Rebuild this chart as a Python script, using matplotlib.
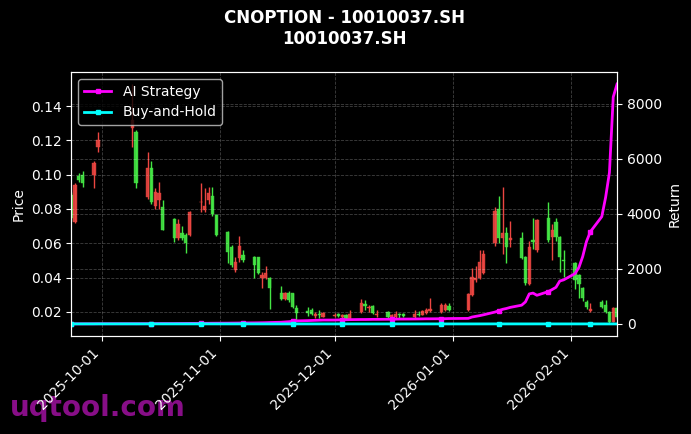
import matplotlib
matplotlib.use('Agg')
import matplotlib.pyplot as plt
import matplotlib.dates as mdates
import numpy as np
import pandas as pd

plt.style.use('dark_background')

# trading days (weekdays minus exchange holidays)
holidays = ['2025-10-01', '2025-10-02', '2025-10-03', '2025-10-06', '2025-10-07',
            '2025-10-08', '2026-01-01', '2026-01-02']
dates = pd.bdate_range('2025-09-23', '2026-02-13')
dates = dates[~dates.isin(pd.to_datetime(holidays))]

opens = [0.088, 0.0725, 0.099, 0.100, 0.0995, 0.116,
         0.127, 0.125, 0.087, 0.104, 0.082, 0.0855, 0.081, 0.074, 0.063, 0.066, 0.065, 0.065,
         0.0838, 0.0795, 0.0855, 0.0875, 0.0765,
         0.0667, 0.058, 0.0445, 0.0515, 0.053, 0.052, 0.052, 0.0395, 0.040, 0.040,
         0.031, 0.0275, 0.031, 0.031, 0.022, 0.0205, 0.021, 0.0175, 0.0185, 0.0172,
         0.0175, 0.019, 0.0168, 0.018, 0.016, 0.020, 0.0245, 0.022, 0.0235, 0.018,
         0.020, 0.0168, 0.017, 0.0185, 0.0185, 0.017, 0.019, 0.0182, 0.0195, 0.0205,
         0.020, 0.021, 0.0235,
         0.021, 0.030, 0.0385, 0.0395, 0.0425, 0.060, 0.080, 0.063, 0.066, 0.062,
         0.063, 0.052, 0.036, 0.062, 0.056, 0.075, 0.0635, 0.0725, 0.0635, 0.0505,
         0.0485, 0.0415, 0.034, 0.0258, 0.0205, 0.0255, 0.024, 0.020, 0.0142, 0.022]
highs = [0.090, 0.095, 0.101, 0.102, 0.108, 0.125,
         0.153, 0.126, 0.113, 0.108, 0.092, 0.096, 0.085, 0.075, 0.074, 0.070, 0.066, 0.079,
         0.095, 0.092, 0.093, 0.093, 0.077,
         0.067, 0.059, 0.052, 0.064, 0.056, 0.0525, 0.052, 0.043, 0.047, 0.0405,
         0.035, 0.0315, 0.032, 0.031, 0.024, 0.023, 0.0225, 0.020, 0.021, 0.020,
         0.0195, 0.0195, 0.019, 0.019, 0.021, 0.0275, 0.027, 0.024, 0.024, 0.021,
         0.0205, 0.019, 0.0205, 0.0195, 0.0195, 0.021, 0.0205, 0.021, 0.022, 0.028,
         0.025, 0.025, 0.025,
         0.031, 0.0455, 0.0465, 0.056, 0.056, 0.081, 0.0875, 0.093, 0.0695, 0.073,
         0.0665, 0.0525, 0.0615, 0.075, 0.074, 0.084, 0.071, 0.0745, 0.064, 0.056,
         0.049, 0.042, 0.0345, 0.027, 0.025, 0.027, 0.027, 0.0205, 0.023, 0.023]
lows = [0.073, 0.072, 0.096, 0.093, 0.092, 0.113,
        0.116, 0.092, 0.086, 0.083, 0.080, 0.080, 0.0675, 0.061, 0.062, 0.062, 0.0545, 0.064,
        0.078, 0.078, 0.083, 0.076, 0.064,
        0.0485, 0.046, 0.0435, 0.049, 0.049, 0.040, 0.042, 0.034, 0.039, 0.0215,
        0.027, 0.027, 0.026, 0.022, 0.0155, 0.0175, 0.018, 0.0165, 0.0165, 0.017,
        0.0168, 0.017, 0.0165, 0.0155, 0.0155, 0.0195, 0.021, 0.020, 0.019, 0.017,
        0.0165, 0.0162, 0.0165, 0.0165, 0.017, 0.0165, 0.0175, 0.018, 0.019, 0.020,
        0.0195, 0.0205, 0.0205,
        0.0205, 0.0295, 0.0375, 0.039, 0.042, 0.0585, 0.060, 0.054, 0.0485, 0.058,
        0.051, 0.0355, 0.0355, 0.0565, 0.055, 0.061, 0.050, 0.0615, 0.0435, 0.0405,
        0.0335, 0.028, 0.0265, 0.0215, 0.020, 0.0225, 0.0195, 0.013, 0.014, 0.016]
closes = [0.075, 0.094, 0.097, 0.095, 0.107, 0.120,
          0.132, 0.095, 0.104, 0.084, 0.090, 0.0895, 0.068, 0.063, 0.071, 0.063, 0.060, 0.0785,
          0.0842, 0.082, 0.0895, 0.077, 0.065,
          0.055, 0.0475, 0.049, 0.0585, 0.050, 0.0475, 0.0427, 0.0415, 0.0425, 0.034,
          0.0275, 0.031, 0.027, 0.023, 0.0195, 0.0195, 0.0185, 0.0185, 0.018, 0.0195,
          0.018, 0.0178, 0.018, 0.0158, 0.0185, 0.0252, 0.0235, 0.023, 0.0195, 0.019,
          0.0168, 0.018, 0.019, 0.018, 0.0178, 0.019, 0.0182, 0.0205, 0.021, 0.0215,
          0.024, 0.024, 0.021,
          0.0305, 0.0405, 0.040, 0.049, 0.054, 0.079, 0.063, 0.066, 0.058, 0.063,
          0.0515, 0.037, 0.058, 0.0605, 0.0735, 0.062, 0.0675, 0.0635, 0.052, 0.0497,
          0.0385, 0.036, 0.028, 0.023, 0.0215, 0.023, 0.020, 0.0142, 0.0225, 0.017]

strategy = [0, 1, 2, 2, 3, 5,
            6, 6, 8, 9, 10, 11, 12, 12, 14, 15, 16, 18, 20, 22, 23, 24, 25,
            27, 29, 30, 32, 35, 38, 40, 42, 45, 50, 60, 70, 80, 95, 110, 120, 125, 130, 135, 140,
            140, 145, 150, 150, 155, 160, 160, 162, 165, 165, 168, 170, 172, 175, 175, 178,
            180, 182, 185, 185, 188, 190, 195,
            200, 250, 275, 300, 330, 430, 475, 530, 560, 600, 680, 800, 1090, 1120, 1040,
            1175, 1250, 1330, 1560, 1600,
            1830, 2050, 2450, 3000, 3350, 3900, 4600, 5500, 8250, 8720]

df = pd.DataFrame({'open': opens, 'high': highs, 'low': lows, 'close': closes,
                   'strategy': strategy}, index=dates)
df['buy_hold'] = df['close'] / df['close'].iloc[0] - 1

up_color = '#ec4641'
down_color = '#44e644'

fig = plt.figure(figsize=(6.91, 4.34), dpi=100)
ax = fig.add_subplot(111)
fig.subplots_adjust(left=0.103, right=0.893, top=0.834, bottom=0.226)

x = mdates.date2num(df.index.to_pydatetime())
colors = np.where(df['close'] >= df['open'], up_color, down_color)
ax.vlines(x, df['low'], df['high'], colors=colors, linewidth=1)
ax.bar(x, (df['close'] - df['open']).abs(), bottom=df[['open', 'close']].min(axis=1),
       width=0.85, color=colors, edgecolor=colors, linewidth=0.3, alpha=0.9)
ax.set_xlim(x[0], x[-1])
ax.set_ylim(0.006, 0.1598)
ax.set_ylabel('Price')
ax.grid(True, linestyle='--', linewidth=0.6, alpha=0.25)

ax2 = ax.twinx()
ax2.plot(x, df['strategy'], color='#ff00ff', linewidth=2, marker='s', markersize=3.5,
         markevery=9, label='AI Strategy')
ax2.plot(x, df['buy_hold'], color='#00ffff', linewidth=2, marker='s', markersize=3.5,
         markevery=9, label='Buy-and-Hold')
ax2.set_ylabel('Return')
ax2.grid(True, linestyle='--', linewidth=0.6, alpha=0.25)
ax2.legend(loc='upper left')

ax.xaxis.set_major_locator(mdates.MonthLocator())
ax.xaxis.set_major_formatter(mdates.DateFormatter('%Y-%m-%d'))
plt.setp(ax.get_xticklabels(), rotation=45, ha='right')

ax.set_title('CNOPTION - 10010037.SH\n10010037.SH', fontsize=12, fontweight='bold', pad=20)

fig.text(0.014, 0.041, 'uqtool.com', fontsize=20, fontweight='bold', color='#8f0f8f',
         alpha=0.95, va='baseline', zorder=-1)

fig.savefig('out.png', dpi=100, facecolor='black')
